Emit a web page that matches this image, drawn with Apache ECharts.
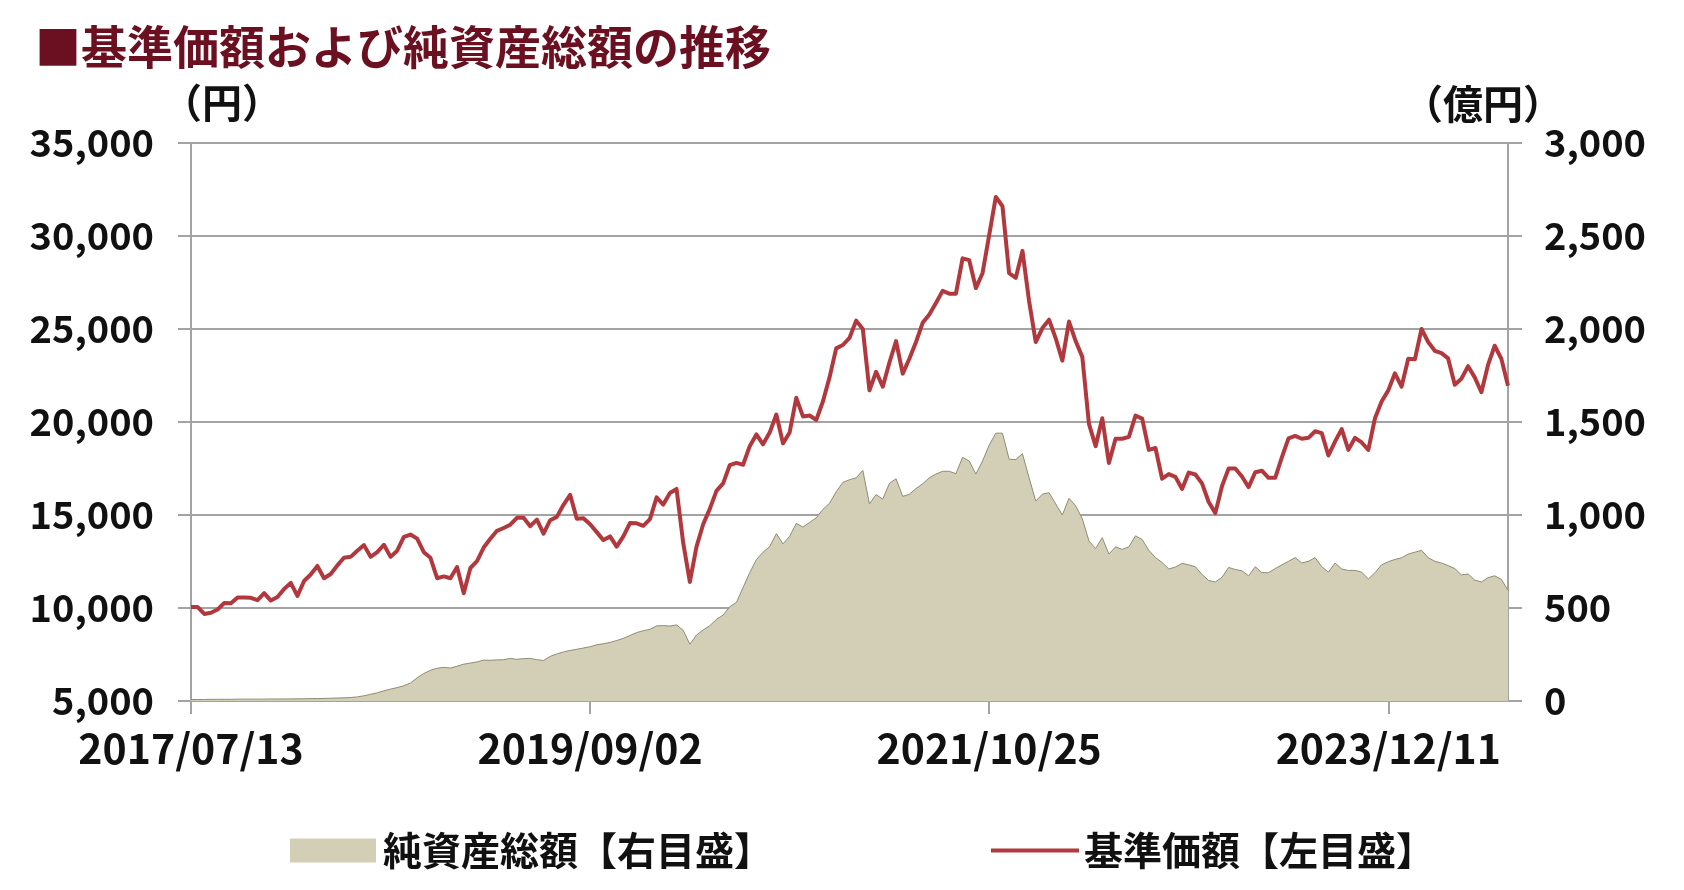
<!DOCTYPE html>
<html>
<head>
<meta charset="utf-8">
<script src="https://cdn.jsdelivr.net/npm/echarts@6/dist/echarts.min.js"></script>
<style>
html,body{margin:0;padding:0;background:#fff;}
#chart{width:1684px;height:890px;}
</style>
</head>
<body>
<div id="chart"></div>
<script>
// ---- data ----
const tickLabels = ['2017/07/13', '2019/09/02', '2021/10/25', '2023/12/11'];
const labelStep = 60; // samples between labelled dates

// 基準価額 (円), left axis
const nav = [
  10050, 10050, 9680, 9740, 9920, 10270, 10250, 10570, 10560, 10550,
  10420, 10800, 10400, 10590, 11020, 11350, 10650, 11450, 11800, 12260,
  11600, 11830, 12290, 12700, 12750, 13080, 13380, 12750, 13000, 13400,
  12750, 13080, 13820, 13950, 13730, 13000, 12700, 11600, 11700, 11600,
  12200, 10800, 12150, 12520, 13250, 13720, 14150, 14300, 14480, 14850,
  14850, 14400, 14750, 14000, 14720, 14900, 15550, 16080, 14800, 14830,
  14500, 14080, 13650, 13850, 13300, 13850, 14570, 14550, 14420, 14780,
  15950, 15560, 16180, 16400, 13500, 11400, 13300, 14500, 15330, 16300,
  16700, 17680, 17800, 17700, 18700, 19330, 18800, 19430, 20400, 18850,
  19440, 21300, 20300, 20350, 20110, 21100, 22400, 23960, 24140, 24520,
  25450, 25000, 21700, 22700, 21900, 23200, 24350, 22600, 23400, 24300,
  25330, 25780, 26400, 27050, 26900, 26900, 28800, 28700, 27200, 28000,
  30050, 32100, 31600, 28000, 27750, 29200, 26500, 24300, 25050, 25500,
  24500, 23300, 25400, 24350, 23500, 19900, 18700, 20200, 17800, 19100,
  19100, 19200, 20340, 20180, 18500, 18600, 16950, 17200, 17050, 16400,
  17280, 17180, 16700, 15700, 15100, 16550, 17500, 17500, 17070, 16500,
  17300, 17380, 17000, 17000, 18100, 19120, 19250, 19100, 19150, 19500,
  19400, 18200, 18950, 19620, 18500, 19150, 18900, 18500, 20200, 21100,
  21700, 22620, 21900, 23400, 23370, 25000, 24300, 23830, 23700, 23420,
  22000, 22330, 23000, 22400, 21600, 23070, 24100, 23400, 21950
];

// 純資産総額 (億円), right axis
const netAssets = [
  8, 8, 8, 9, 9, 9, 9, 10, 10, 10,
  10, 10, 11, 11, 11, 11, 12, 12, 13, 13,
  14, 15, 16, 17, 19, 22, 28, 36, 44, 55,
  64, 72, 82, 97, 125, 148, 165, 176, 181, 177,
  187, 198, 204, 210, 220, 219, 221, 222, 229, 224,
  228, 229, 222, 218, 240, 253, 264, 272, 278, 285,
  292, 302, 308, 315, 325, 337, 352, 368, 378, 385,
  404, 405, 403, 409, 380, 305, 355, 382, 405, 439,
  462, 507, 530, 610, 690, 760, 800, 830, 900, 845,
  885, 955, 935, 960, 985, 1030, 1063, 1125, 1175, 1190,
  1200, 1240, 1060, 1110, 1085, 1170, 1195, 1100, 1112, 1142,
  1168, 1200, 1220, 1235, 1235, 1222, 1310, 1290, 1220, 1290,
  1376, 1440, 1440, 1300, 1298, 1330, 1200, 1075, 1112, 1120,
  1060, 1000, 1090, 1050, 980, 860, 820, 878, 790, 829,
  815, 829, 888, 868, 810, 771, 745, 710, 720, 740,
  732, 722, 680, 648, 640, 665, 718, 707, 700, 673,
  722, 690, 690, 712, 732, 751, 771, 742, 751, 771,
  722, 693, 742, 710, 702, 702, 693, 656, 690, 732,
  749, 761, 770, 790, 800, 810, 771, 751, 742, 728,
  712, 678, 683, 650, 640, 663, 673, 654, 595
];

const leftTicks = {min: 5000, max: 35000, interval: 5000};
const rightTicks = {min: 0, max: 3000, interval: 500};

const titleText = '■基準価額および純資産総額の推移';
const leftUnit = '（円）';
const rightUnit = '（億円）';
const areaName = '純資産総額【右目盛】';
const lineName = '基準価額【左目盛】';

// ---- category dates (labelled dates are exact; in-between dates approximate) ----
function parseD(s) { const p = s.split('/').map(Number); return Date.UTC(p[0], p[1] - 1, p[2]); }
function fmtD(t) {
  const d = new Date(t);
  const p = n => String(n).padStart(2, '0');
  return d.getUTCFullYear() + '/' + p(d.getUTCMonth() + 1) + '/' + p(d.getUTCDate());
}
const anchors = tickLabels.map(parseD);
const DAY = 86400000;
const categories = nav.map((_, i) => {
  const seg = Math.min(Math.floor(i / labelStep), anchors.length - 2);
  const t0 = anchors[seg], t1 = anchors[seg + 1];
  const t = t0 + (t1 - t0) * (i - seg * labelStep) / labelStep;
  return fmtD(Math.round(t / DAY) * DAY);
});

// ---- chart ----
const FONT = '"Noto Sans CJK JP", "Noto Sans", sans-serif';
const GRID = '#a3a3a3';
const TXT = '#111111';
const fmtNum = v => Number(v).toLocaleString('en-US');

const chart = echarts.init(document.getElementById('chart'), null, {renderer: 'canvas'});
chart.setOption({
  backgroundColor: '#ffffff',
  animation: false,
  title: {
    text: titleText,
    left: 30, top: 19,
    textStyle: {fontFamily: FONT, fontSize: 46, fontWeight: 'bold', color: '#6b1020'}
  },
  graphic: [
    {type: 'text', left: 162, top: 83, style: {text: leftUnit, font: 'bold 40px ' + FONT, fill: TXT}},
    {type: 'text', left: 1403, top: 84, style: {text: rightUnit, font: 'bold 40px ' + FONT, fill: TXT}}
  ],
  legend: [
    {
      left: 285, top: 826, itemWidth: 86, itemHeight: 24, itemGap: 0,
      data: [{name: areaName, icon: 'rect'}],
      textStyle: {fontFamily: FONT, fontSize: 39, fontWeight: 'bold', color: TXT, padding: [0, 0, 0, 2]}
    },
    {
      left: 986, top: 826, itemWidth: 88, itemHeight: 4, itemGap: 0,
      data: [{name: lineName, icon: 'rect'}],
      textStyle: {fontFamily: FONT, fontSize: 39, fontWeight: 'bold', color: TXT, padding: [0, 0, 0, 0]}
    }
  ],
  grid: {left: 191, right: 176, top: 143, bottom: 189, containLabel: false},
  xAxis: {
    type: 'category',
    data: categories,
    boundaryGap: false,
    axisLine: {lineStyle: {color: GRID, width: 2}},
    axisTick: {show: true, interval: labelStep - 1, length: 13, lineStyle: {color: GRID, width: 2}},
    axisLabel: {
      interval: labelStep - 1, margin: 27,
      fontFamily: FONT, fontSize: 41, fontWeight: 'bold', color: TXT
    },
    splitLine: {show: false}
  },
  yAxis: [
    {
      type: 'value', position: 'left',
      min: leftTicks.min, max: leftTicks.max, interval: leftTicks.interval,
      axisLine: {show: true, lineStyle: {color: GRID, width: 2}},
      axisTick: {show: true, length: 13, lineStyle: {color: GRID, width: 2}},
      axisLabel: {margin: 37, fontFamily: FONT, fontSize: 38, fontWeight: 'bold', color: TXT, formatter: fmtNum},
      splitLine: {show: true, lineStyle: {color: GRID, width: 2}}
    },
    {
      type: 'value', position: 'right',
      min: rightTicks.min, max: rightTicks.max, interval: rightTicks.interval,
      axisLine: {show: true, lineStyle: {color: GRID, width: 2}},
      axisTick: {show: true, length: 14, lineStyle: {color: GRID, width: 2}},
      axisLabel: {margin: 36, fontFamily: FONT, fontSize: 38, fontWeight: 'bold', color: TXT, formatter: fmtNum},
      splitLine: {show: false}
    }
  ],
  series: [
    {
      name: areaName, type: 'line', yAxisIndex: 1,
      data: netAssets, showSymbol: false, symbol: 'none',
      itemStyle: {color: '#d3cfb6'},
      lineStyle: {color: '#8f8c74', width: 1},
      areaStyle: {color: '#d3cfb6', opacity: 1},
      z: 1
    },
    {
      name: lineName, type: 'line', yAxisIndex: 0,
      data: nav, showSymbol: false, symbol: 'none',
      itemStyle: {color: '#b1393e'},
      lineStyle: {color: '#b1393e', width: 4, join: 'round'},
      z: 3
    }
  ]
});
</script>
</body>
</html>
